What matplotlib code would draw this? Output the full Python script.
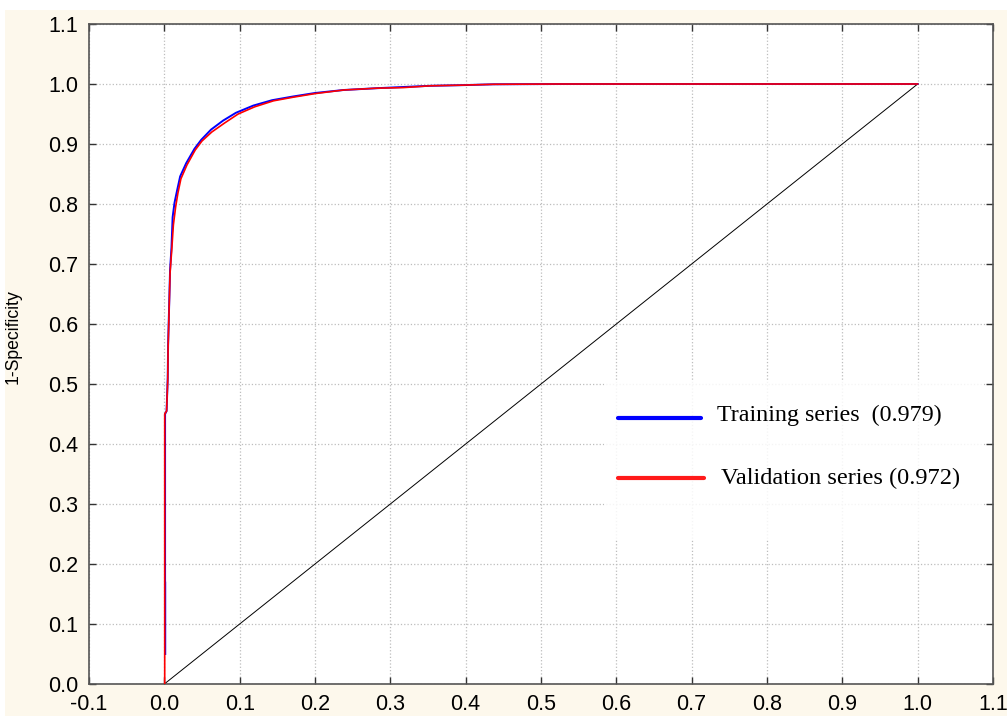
import matplotlib.pyplot as plt
from matplotlib.patches import Rectangle

# ROC points
fpr_train = [0.0012, 0.0012, 0.001, 0.001, 0.003, 0.0045, 0.005, 0.0067, 0.0076, 0.0095,
             0.011, 0.0135, 0.017, 0.021, 0.029, 0.040, 0.049, 0.062, 0.078, 0.095,
             0.118, 0.143, 0.17, 0.20, 0.238, 0.282, 0.317, 0.353, 0.393, 0.437, 0.53, 1.0]
tpr_train = [0.05, 0.17, 0.17, 0.45, 0.455, 0.51, 0.565, 0.645, 0.69, 0.728,
             0.778, 0.802, 0.823, 0.846, 0.868, 0.892, 0.907, 0.924, 0.939, 0.952,
             0.964, 0.973, 0.979, 0.985, 0.99, 0.993, 0.995, 0.997, 0.998, 0.9995, 1.0, 1.0]

fpr_valid = [0.0005, 0.0005, 0.003, 0.0045, 0.005, 0.0067, 0.0076, 0.0098, 0.012, 0.015,
             0.018, 0.022, 0.030, 0.041, 0.050, 0.063, 0.080, 0.098, 0.12, 0.145,
             0.171, 0.20, 0.238, 0.282, 0.317, 0.353, 0.393, 0.437, 0.52, 1.0]
tpr_valid = [0.0, 0.45, 0.455, 0.507, 0.56, 0.643, 0.685, 0.723, 0.765, 0.795,
             0.818, 0.842, 0.865, 0.89, 0.905, 0.92, 0.935, 0.95, 0.962, 0.972,
             0.978, 0.984, 0.99, 0.993, 0.994, 0.997, 0.998, 0.9995, 1.0, 1.0]

auc_train = 0.979
auc_valid = 0.972
ticks = [-0.1, 0.0, 0.1, 0.2, 0.3, 0.4, 0.5, 0.6, 0.7, 0.8, 0.9, 1.0, 1.1]
yticks = [0.0, 0.1, 0.2, 0.3, 0.4, 0.5, 0.6, 0.7, 0.8, 0.9, 1.0, 1.1]

plt.rcParams['font.family'] = ['Liberation Sans', 'DejaVu Sans']

fig = plt.figure(figsize=(10.07, 7.16), dpi=100, facecolor='#fdf8ec')
# white strips at top / left edge of the screenshot
fig.patches.append(Rectangle((0, 1 - 10 / 716), 1, 10 / 716, transform=fig.transFigure,
                             facecolor='white', edgecolor='none', zorder=0))
fig.patches.append(Rectangle((0, 0), 5 / 1007, 1, transform=fig.transFigure,
                             facecolor='white', edgecolor='none', zorder=0))

ax = fig.add_axes([89 / 1007, 1 - 684 / 716, 904 / 1007, 660 / 716])
ax.set_facecolor('white')

ax.plot([0, 1], [0, 1], color='black', lw=0.7, zorder=2)
ax.plot(fpr_train, tpr_train, color='#0000ff', lw=1.4, zorder=3)
ax.plot(fpr_valid, tpr_valid, color='#ff0000', lw=1.2, zorder=4)

ax.set_xlim(-0.1, 1.1)
ax.set_ylim(0, 1.1)
ax.set_xticks(ticks)
ax.set_yticks(yticks)
ax.set_xticklabels([f'{t:.1f}' for t in ticks])
ax.set_yticklabels([f'{t:.1f}' for t in yticks])
ax.tick_params(direction='in', length=5, width=1, colors='#333333', labelcolor='black',
               labelsize=15.5, top=True, right=True)
ax.tick_params(axis='y', pad=8)
ax.tick_params(axis='x', pad=7)
ax.grid(True, linestyle=':', color='#bdbdbd', lw=0.9, zorder=0)
ax.set_axisbelow(True)
for s in ax.spines.values():
    s.set_color('#555555')
    s.set_linewidth(1.2)

ax.set_ylabel('1-Specificity', fontsize=12.7)
ax.yaxis.set_label_coords(-0.074, 0.526)

# pasted legend block
ax.add_patch(Rectangle((0.583, 0.24), 0.505, 0.265, facecolor='white', edgecolor='none',
                       alpha=0.85, zorder=5))
ax.plot([0.602, 0.712], [0.443, 0.443], color='#0000ff', lw=3, solid_capstyle='round', zorder=6)
ax.plot([0.602, 0.716], [0.343, 0.343], color='#ff1a1a', lw=3, solid_capstyle='round', zorder=6)
ax.text(0.734, 0.447, f'Training series  ({auc_train})', family=['Liberation Serif', 'DejaVu Serif'],
        fontsize=17.3, va='center', zorder=7)
ax.text(0.739, 0.343, f'Validation series ({auc_valid})', family=['Liberation Serif', 'DejaVu Serif'],
        fontsize=17.6, va='center', zorder=7)

fig.savefig('out.png', dpi=100, facecolor=fig.get_facecolor())
